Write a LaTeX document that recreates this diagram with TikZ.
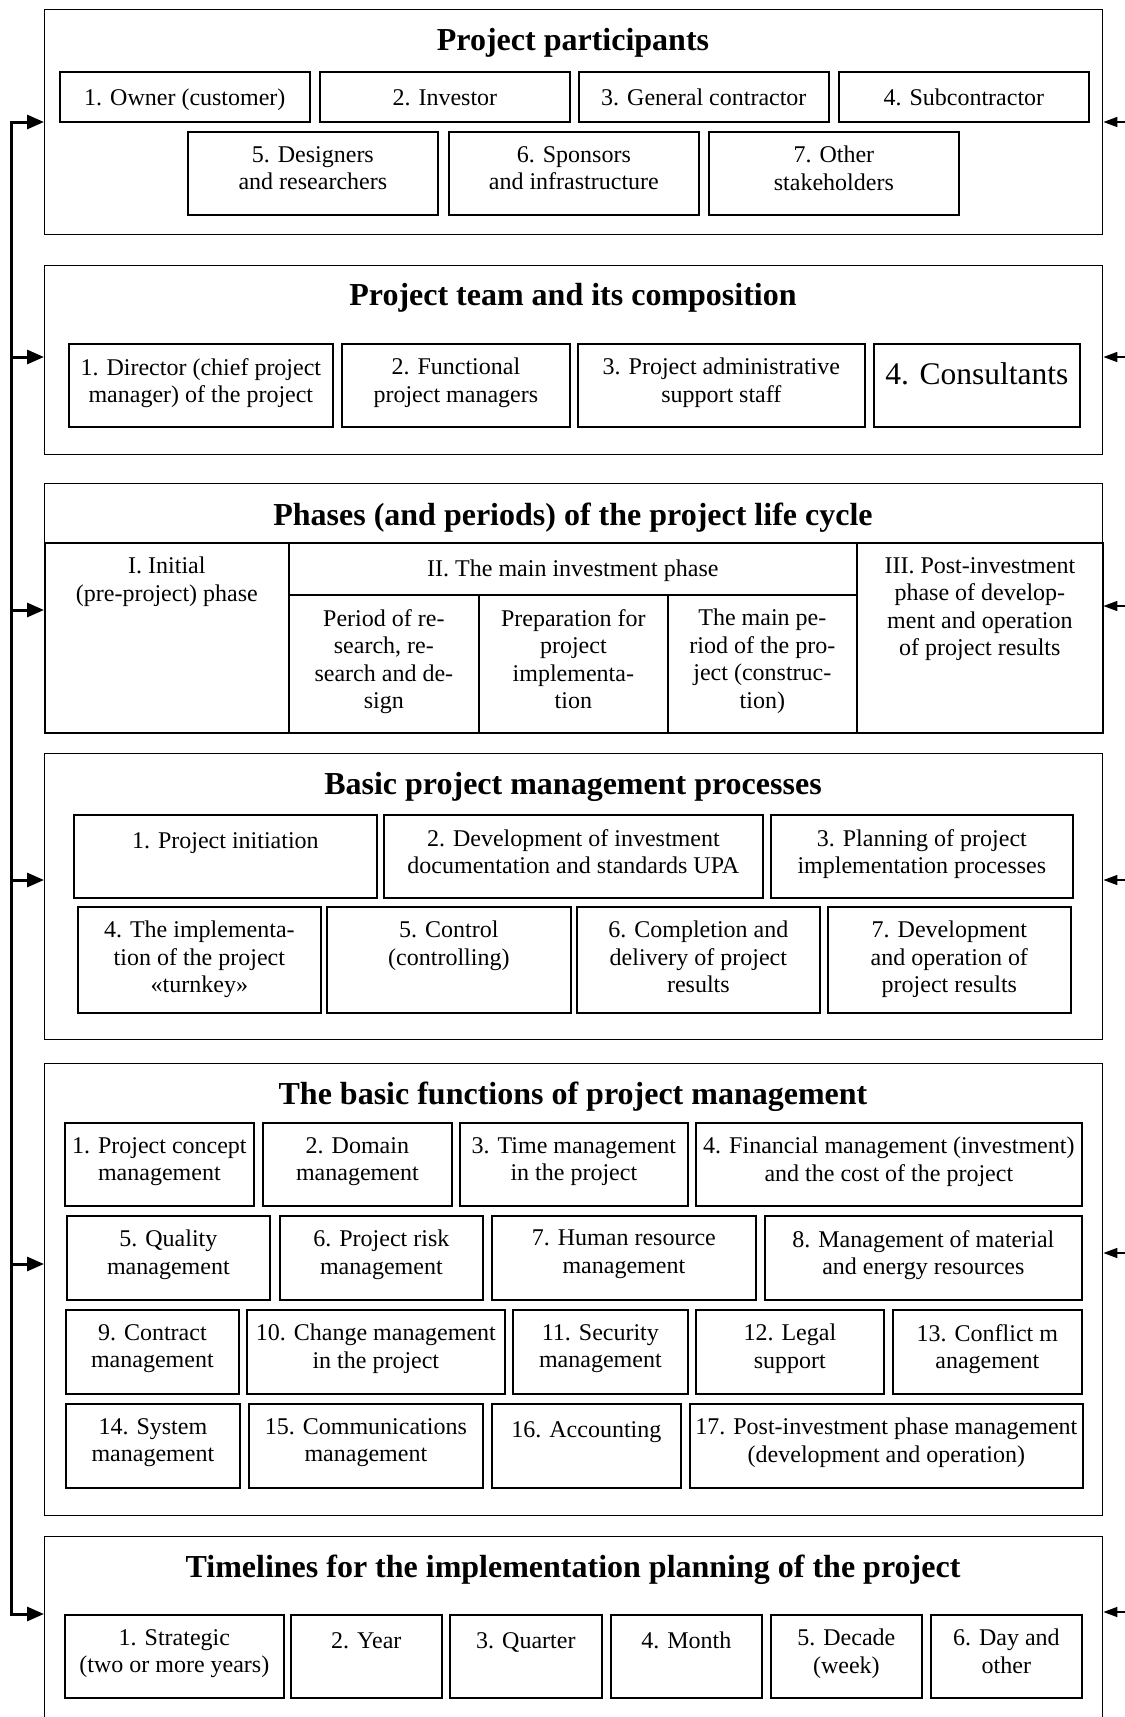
\documentclass[tikz,border=0pt]{standalone}
\usepackage{fontspec}
\setmainfont{Liberation Serif}
\usepackage{tikz}
\usetikzlibrary{arrows.meta}

\begin{document}
\begin{tikzpicture}[x=1pt, y=-1pt, >={Triangle[length=17pt,width=14pt]},
  block/.style={draw=black, line width=1.4pt, anchor=north west, inner sep=0pt},
  cell/.style={draw=black, line width=1.7pt, anchor=north west, inner sep=0pt},
  txt/.style={anchor=north, align=center, inner sep=0pt, yshift=-15pt, font=\fontsize{24}{27.5}\selectfont, execute at begin node=\strut},
  heading/.style={anchor=base, inner sep=0pt, font=\bfseries\fontsize{32}{36}\selectfont},
  feed/.style={->, line width=3pt},
  back/.style={-{Triangle[length=14pt,width=10pt]}, line width=1.6pt}]

  \useasboundingbox (0,0) rectangle (1125,1717);

  % project participants
  \node[block, minimum width=1058, minimum height=225] (partic) at (44,9) {};
  \node[heading] (particT) at (573,50) {Project participants};
  \node[cell, minimum width=250, minimum height=50, label={[txt]north:{1. Owner (customer)}}]       (owner)   at (59,71)  {};
  \node[cell, minimum width=250, minimum height=50, label={[txt]north:{2. Investor}}]               (invest)  at (319,71) {};
  \node[cell, minimum width=250, minimum height=50, label={[txt]north:{3. General contractor}}]     (gencon)  at (578,71) {};
  \node[cell, minimum width=250, minimum height=50, label={[txt]north:{4. Subcontractor}}]          (subcon)  at (838,71) {};
  \node[cell, minimum width=250, minimum height=83, label={[txt]north:{5. Designers\\and researchers}}]     (design) at (187,131) {};
  \node[cell, minimum width=250, minimum height=83, label={[txt]north:{6. Sponsors\\and infrastructure}}]  (sponsor) at (448,131) {};
  \node[cell, minimum width=250, minimum height=83, label={[txt]north:{7. Other\\stakeholders}}]            (other)  at (708,131) {};

  % project team
  \node[block, minimum width=1058, minimum height=189] (team) at (44,265) {};
  \node[heading] (teamT) at (573,305) {Project team and its composition};
  \node[cell, minimum width=264, minimum height=83, label={[txt]north:{1. Director (chief project\\manager) of the project}}] (director) at (68,343) {};
  \node[cell, minimum width=228, minimum height=83, label={[txt]north:{2. Functional\\project managers}}]                  (funcman)  at (341,343) {};
  \node[cell, minimum width=287, minimum height=83, label={[txt]north:{3. Project administrative\\support staff}}]         (admin)    at (577,343) {};
  \node[cell, minimum width=206, minimum height=83, label={[txt, yshift=-1pt, font=\fontsize{31.5}{36}\selectfont]north:{4. Consultants}}] (consult) at (873,343) {};

  % life cycle
  \node[block, minimum width=1058, minimum height=249] (phases) at (44,483) {};
  \node[heading] (phasesT) at (573,525) {Phases (and periods) of the project life cycle};
  \node[cell, minimum width=244, minimum height=190, label={[txt]north:{I. Initial\\(pre-project) phase}}] (initial) at (44,542) {};
  \node[cell, minimum width=568, minimum height=52,  label={[txt]north:{II. The main investment phase}}] (mainph) at (288,542) {};
  \node[cell, minimum width=190, minimum height=138, label={[txt]north:{Period of re-\\search, re-\\search and de-\\sign}}]                (perres)  at (288,594) {};
  \node[cell, minimum width=189, minimum height=138, label={[txt]north:{Preparation for\\project\\implementa-\\tion}}]                    (prepar)  at (478,594) {};
  \node[cell, minimum width=189, minimum height=138, label={[txt]north:{The main pe-\\riod of the pro-\\ject (construc-\\tion)}}]        (construc) at (667,594) {};
  \node[cell, minimum width=246, minimum height=190, label={[txt]north:{III. Post-investment\\phase of develop-\\ment and operation\\of project results}}] (postinv) at (856,542) {};

  % management processes
  \node[block, minimum width=1058, minimum height=286] (procs) at (44,753) {};
  \node[heading] (procsT) at (573,794) {Basic project management processes};
  \node[cell, minimum width=303, minimum height=83, label={[txt]north:{1. Project initiation}}] (initiat) at (73,814) {};
  \node[cell, minimum width=379, minimum height=83, label={[txt]north:{2. Development of investment\\documentation and standards UPA}}] (devdoc) at (383,814) {};
  \node[cell, minimum width=302, minimum height=83, label={[txt]north:{3. Planning of project\\implementation processes}}] (planning) at (770,814) {};
  \node[cell, minimum width=243, minimum height=106, label={[txt]north:{4. The implementa-\\tion of the project\\«turnkey»}}] (turnkey) at (77,906) {};
  \node[cell, minimum width=244, minimum height=106, label={[txt]north:{5. Control\\(controlling)}}] (control) at (326,906) {};
  \node[cell, minimum width=243, minimum height=106, label={[txt]north:{6. Completion and\\delivery of project\\results}}] (complet) at (576,906) {};
  \node[cell, minimum width=243, minimum height=106, label={[txt]north:{7. Development\\and operation of\\project results}}] (devoper) at (827,906) {};

  % management functions
  \node[block, minimum width=1058, minimum height=452] (funcs) at (44,1063) {};
  \node[heading] (funcsT) at (573,1104) {The basic functions of project management};
  \node[cell, minimum width=189, minimum height=83, label={[txt]north:{1. Project concept\\management}}] (concept) at (64,1122) {};
  \node[cell, minimum width=189, minimum height=83, label={[txt]north:{2. Domain\\management}}] (domain) at (262,1122) {};
  \node[cell, minimum width=228, minimum height=83, label={[txt]north:{3. Time management\\in the project}}] (timem) at (459,1122) {};
  \node[cell, minimum width=386, minimum height=83, label={[txt]north:{4. Financial management (investment)\\and the cost of the project}}] (finance) at (695,1122) {};
  \node[cell, minimum width=203, minimum height=84, label={[txt]north:{5. Quality\\management}}] (quality) at (66,1215) {};
  \node[cell, minimum width=203, minimum height=84, label={[txt]north:{6. Project risk\\management}}] (risk) at (279,1215) {};
  \node[cell, minimum width=264, minimum height=84, label={[txt]north:{7. Human resource\\management}}] (human) at (491,1215) {};
  \node[cell, minimum width=317, minimum height=84, label={[txt]north:{8. Management of material\\and energy resources}}] (material) at (764,1215) {};
  \node[cell, minimum width=173, minimum height=84, label={[txt]north:{9. Contract\\management}}] (contract) at (65,1309) {};
  \node[cell, minimum width=258, minimum height=84, label={[txt]north:{10. Change management\\in the project}}] (change) at (246,1309) {};
  \node[cell, minimum width=175, minimum height=84, label={[txt]north:{11. Security\\management}}] (security) at (512,1309) {};
  \node[cell, minimum width=188, minimum height=84, label={[txt]north:{12. Legal\\support}}] (legal) at (695,1309) {};
  \node[cell, minimum width=189, minimum height=84, label={[txt]north:{13. Conflict m\\anagement}}] (conflict) at (892,1309) {};
  \node[cell, minimum width=174, minimum height=84, label={[txt]north:{14. System\\management}}] (system) at (65,1403) {};
  \node[cell, minimum width=234, minimum height=84, label={[txt]north:{15. Communications\\management}}] (communic) at (248,1403) {};
  \node[cell, minimum width=189, minimum height=84, label={[txt]north:{16. Accounting}}] (account) at (491,1403) {};
  \node[cell, minimum width=393, minimum height=84, label={[txt]north:{17. Post-investment phase management\\(development and operation)}}] (postmgmt) at (689,1403) {};

  % timelines
  \node[block, minimum width=1058, minimum height=250] (timel) at (44,1536) {};
  \node[heading] (timelT) at (573,1577) {Timelines for the implementation planning of the project};
  \node[cell, minimum width=219, minimum height=83, label={[txt]north:{1. Strategic\\(two or more years)}}] (strateg) at (64,1614) {};
  \node[cell, minimum width=151, minimum height=83, label={[txt]north:{2. Year}}]    (year)    at (290,1614) {};
  \node[cell, minimum width=152, minimum height=83, label={[txt]north:{3. Quarter}}] (quarter) at (449,1614) {};
  \node[cell, minimum width=151, minimum height=83, label={[txt]north:{4. Month}}]   (month)   at (610,1614) {};
  \node[cell, minimum width=151, minimum height=83, label={[txt]north:{5. Decade\\(week)}}] (decade) at (770,1614) {};
  \node[cell, minimum width=151, minimum height=83, label={[txt]north:{6. Day and\\other}}] (dayoth) at (930,1614) {};

  % feedback bus
  \coordinate (b1) at (11,122);
  \coordinate (b2) at (11,357);
  \coordinate (b3) at (11,610);
  \coordinate (b4) at (11,880);
  \coordinate (b5) at (11,1264);
  \coordinate (b6) at (11,1614);
  \draw[feed, <->] (b1 -| partic.west) -- (b1) -- (b6) -- (b6 -| timel.west);
  \draw[feed] (b2) -- (b2 -| team.west);
  \draw[feed] (b3) -- (b3 -| phases.west);
  \draw[feed] (b4) -- (b4 -| procs.west);
  \draw[feed] (b5) -- (b5 -| funcs.west);

  \coordinate (r1) at (1125,122);
  \coordinate (r2) at (1125,357);
  \coordinate (r3) at (1125,606);
  \coordinate (r4) at (1125,880);
  \coordinate (r5) at (1125,1253);
  \coordinate (r6) at (1125,1612);
  \draw[back] (r1) -- (r1 -| partic.east);
  \draw[back] (r2) -- (r2 -| team.east);
  \draw[back] (r3) -- (r3 -| phases.east);
  \draw[back] (r4) -- (r4 -| procs.east);
  \draw[back] (r5) -- (r5 -| funcs.east);
  \draw[back] (r6) -- (r6 -| timel.east);
\end{tikzpicture}
\end{document}
